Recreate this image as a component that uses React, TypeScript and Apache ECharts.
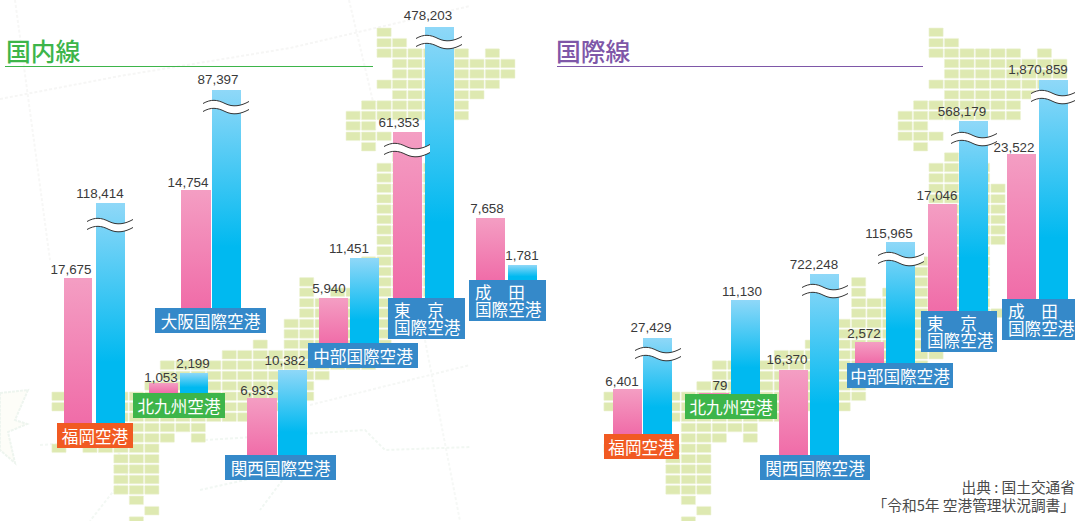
import React, { useEffect, useRef } from "react";
import * as echarts from "echarts";

// ---- values ----
const domesticAirports = ["福岡空港", "大阪国際空港", "北九州空港", "関西国際空港", "中部国際空港", "東　京\n国際空港", "成　田\n国際空港"];
const domesticPink = [17675, 14754, 1053, 6933, 5940, 61353, 7658];
const domesticBlue = [118414, 87397, 2199, 10382, 11451, 478203, 1781];

const internationalAirports = ["福岡空港", "北九州空港", "関西国際空港", "中部国際空港", "東　京\n国際空港", "成　田\n国際空港"];
const internationalPink = [6401, 79, 16370, 2572, 17046, 23522];
const internationalBlue = [27429, 11130, 722248, 115965, 568179, 1870859];

const WIDTH = 1075;
const HEIGHT = 521;

// ---- layout (in axis units, the axes run over the picture area) ----
// bar columns: [pinkX0, pinkX1, blueX0, blueX1, pinkTop, blueTop, base]
const domesticBars = [
  [64, 92, 96, 125, 278, 203, 424],
  [181, 211, 212, 241, 190, 90, 308],
  [149, 178, 180, 208, 383, 373, 393],
  [247, 277, 278, 307, 398, 370, 456],
  [319, 348, 350, 379, 298, 258, 344],
  [393, 422, 425, 454, 132, 27, 298],
  [476, 505, 508, 537, 218, 265, 281],
];
const internationalBars = [
  [613, 642, 643, 672, 389, 338, 434],
  [699, 729, 731, 760, 393, 300, 394],
  [779, 808, 810, 839, 370, 274, 455],
  [855, 884, 886, 915, 342, 242, 363],
  [928, 957, 959, 988, 204, 121, 311],
  [1007, 1036, 1039, 1068, 154, 80, 299],
];
// name plates: [x0, x1, y0, y1, fill]
const domesticPlates: any[] = [
  [57, 133, 423, 448, "#F15A22"],
  [155, 266, 308, 333, "#3589C9"],
  [133, 225, 393, 418, "#3DB54A"],
  [225, 336, 455, 480, "#3589C9"],
  [308, 418, 343, 368, "#3589C9"],
  [388, 465, 298, 339, "#3589C9"],
  [469, 546, 280, 321, "#3589C9"],
];
const internationalPlates: any[] = [
  [604, 679, 434, 459, "#F15A22"],
  [685, 777, 394, 419, "#3DB54A"],
  [760, 870, 455, 480, "#3589C9"],
  [847, 953, 363, 388, "#3589C9"],
  [921, 997, 311, 352, "#3589C9"],
  [1002, 1075, 299, 340, "#3589C9"],
];
// value label anchors: [pinkCx, pinkCy, blueCx, blueCy]
const domesticAnchors = [
  [71, 269, 100, 193],
  [188, 182, 218, 79],
  [161, 377, 193, 363],
  [257, 390, 285, 360],
  [329, 288, 349, 248],
  [399, 122, 428, 15],
  [487, 208, 522, 255],
];
const internationalAnchors = [
  [622, 381, 651, 327],
  [720, 385, 742, 291],
  [787, 359, 814, 264],
  [864, 333, 889, 233],
  [937, 195, 962, 111],
  [1014, 147, 1038, 69],
];
// top-left corners of the axis-break marks
const breakMarks = [
  [87, 218], [203, 100], [384, 143], [416, 35],
  [635, 347], [802, 284], [878, 252], [951, 132], [1031, 90],
];
// Japan tile map: [row, columns]
const r = (a: number, b: number) => { const o: number[] = []; for (let i = a; i <= b; i++) o.push(i); return o; };
const tileRows: [number, number[]][] = [
  [0, [2]], [1, [2, 3]], [2, [2, 3, 4, 5, 6, 7, 9]], [3, r(3, 10)], [4, r(3, 10)], [5, r(2, 9)], [6, r(3, 8)],
  [7, r(1, 7)], [8, r(0, 7)], [9, [0, 1]], [10, [0, 1, 2]], [11, [1]], [12, [3]], [13, r(2, 5)], [14, r(2, 5)],
  [15, r(2, 6)], [16, r(2, 6)], [17, r(2, 6)], [18, r(2, 6)], [19, r(2, 6)], [20, r(2, 6)], [21, r(2, 5)],
  [22, r(1, 5)], [23, r(1, 5)], [24, [-3, ...r(1, 5)]], [25, [-3, ...r(-1, 5)]], [26, r(-3, 5)], [27, r(-3, 6)],
  [28, r(-4, 5)], [29, r(-4, 5)], [30, [-6, ...r(-4, 2)]], [31, r(-8, 2)], [32, r(-12, 1)], [33, r(-12, -2)],
  [34, r(-13, -3)], [35, [-19, ...r(-15, -3)]], [36, [-19, ...r(-15, -4)]], [37, r(-15, -7)], [38, r(-14, -10)],
  [39, [-14, -13, -12, -10]], [40, [-19, -17, -16, -15, -14, -13]], [41, r(-15, -13)], [42, r(-15, -13)],
  [43, r(-15, -13)], [44, r(-15, -13)], [45, [-14]], [46, [-13]], [47, [-14]],
];
const mapOffsets = [0, 552];

const NUM_FONT = '"Liberation Sans", Arial, sans-serif';
const JP_FONT = '"Noto Sans CJK JP", sans-serif';
const grad = (stops: [number, string][]) => new echarts.graphic.LinearGradient(0, 0, 0, 1, stops.map(([offset, color]) => ({ offset, color })));
const pinkFill = () => grad([[0, "#F49EC3"], [1, "#F06CA8"]]);
const blueFill = () => grad([[0, "#8FD8F8"], [0.72, "#00B9F0"], [1, "#00B9F0"]]);

echarts.graphic.registerShape("breakBand", echarts.graphic.extendPath("M0,3.5 C8,-1 14,-0.5 22,3.5 C30,7.5 38,6 46,1.5 L46,9.5 C38,14 30,15.5 22,11.5 C14,7.5 8,7 0,11.5 Z", {}));
echarts.graphic.registerShape("breakLine", echarts.graphic.extendPath("M0,3.5 C8,-1 14,-0.5 22,3.5 C30,7.5 38,6 46,1.5 M0,11.5 C8,7 14,7.5 22,11.5 C30,15.5 38,14 46,9.5", {}));

const tileData: number[][] = [];
mapOffsets.forEach((dx) => tileRows.forEach(([row, cols]) => cols.forEach((c) => tileData.push([346 + 15.48 * c + dx, 28 + 10.4 * row]))));

function barSeries(name: string, layout: number[][], anchors: number[][], pink: number[], blue: number[]) {
  const data = layout.map((b, i) => ({ name: String(i), value: b }));
  return {
    type: "custom", name, coordinateSystem: "cartesian2d", clip: false, z: 3, silent: true,
    encode: { x: 0, y: 4 }, data,
    renderItem: (params: any, api: any) => {
      const v = (k: number) => api.value(k) as number;
      const rect = (x0: number, x1: number, top: number, base: number, fill: any) => {
        const a = api.coord([x0, top]); const b = api.coord([x1, base]);
        return { type: "rect", shape: { x: a[0], y: a[1], width: b[0] - a[0], height: b[1] - a[1] }, style: { fill } };
      };
      const an = anchors[params.dataIndex];
      const label = (val: number, cx: number, cy: number) => {
        const p = api.coord([cx, cy]);
        return { type: "text", z2: 5, style: { text: val.toLocaleString("en-US"), x: p[0], y: p[1], align: "center", verticalAlign: "middle", font: `13.4px ${NUM_FONT}`, fill: "#3a3a3a" } };
      };
      return {
        type: "group",
        children: [
          rect(v(0), v(1), v(4), v(6), pinkFill()),
          rect(v(2), v(3), v(5), v(6), blueFill()),
          label(pink[params.dataIndex], an[0], an[1]),
          label(blue[params.dataIndex], an[2], an[3]),
        ],
      };
    },
  };
}

function plateSeries(name: string, plates: any[], names: string[]) {
  return {
    type: "custom", name: name + "名", coordinateSystem: "cartesian2d", clip: false, z: 6, silent: true,
    encode: { x: 0, y: 2 }, data: plates.map((p) => p.slice(0, 4)),
    renderItem: (params: any, api: any) => {
      const a = api.coord([api.value(0), api.value(2)]);
      const b = api.coord([api.value(1), api.value(3)]);
      const text = names[params.dataIndex];
      const two = text.includes("\n");
      return {
        type: "group",
        children: [
          { type: "rect", shape: { x: a[0], y: a[1], width: b[0] - a[0], height: b[1] - a[1] }, style: { fill: plates[params.dataIndex][4] } },
          { type: "text", z2: 5, style: {
            text, x: two ? a[0] + 6 : (a[0] + b[0]) / 2, y: (a[1] + b[1]) / 2,
            align: two ? "left" : "center", verticalAlign: "middle", font: `16.6px ${JP_FONT}`, lineHeight: 17.5, fill: "#ffffff" } },
        ],
      };
    },
  };
}

const faintLines: { pts: number[][]; color: string }[] = [
  { pts: [[0, 99], [120, 76], [290, 48], [470, 6]], color: "#f6f6f5" },
  { pts: [[15, 0], [50, 260]], color: "#f7f7f6" },
  { pts: [[349, 0], [375, 110]], color: "#f7f7f6" },
  { pts: [[310, 405], [470, 365]], color: "#f5f7f5" },
  { pts: [[425, 340], [460, 521]], color: "#f6f8f6" },
  { pts: [[205, 440], [365, 430], [385, 450], [470, 447]], color: "#f1f7f2" },
  { pts: [[40, 445], [110, 440], [130, 470], [90, 521]], color: "#f3f8f4" },
  { pts: [[200, 490], [290, 470], [260, 510]], color: "#f1f7f3" },
];

export default function App() {
  const ref = useRef<HTMLDivElement>(null);
  useEffect(() => {
    const chart = echarts.init(ref.current!, null, { renderer: "svg" });
    const line = (x0: number, x1: number, color: string) => ({ type: "line", shape: { x1: x0, y1: 66.5, x2: x1, y2: 66.5 }, style: { stroke: color, lineWidth: 1.2 } });
    const title = (text: string, x: number, fill: string) => ({ type: "text", x, y: 50, style: { text, fill, font: `500 24.8px ${JP_FONT}`, align: "left", verticalAlign: "middle" } });
    const foot = (text: string, y: number) => ({ type: "text", x: 1075, y, style: { text, fill: "#4a4a4a", font: `14.7px ${JP_FONT}`, align: "right", verticalAlign: "middle" } });
    chart.setOption({
      animation: false,
      backgroundColor: "#ffffff",
      grid: { left: 0, top: 0, right: 0, bottom: 0 },
      xAxis: { type: "value", min: 0, max: WIDTH, show: false },
      yAxis: { type: "value", min: 0, max: HEIGHT, inverse: true, show: false },
      graphic: [
        { type: "polygon", z: 0, shape: { points: [[0, 393], [28, 390], [15, 420], [27, 424], [8, 432], [15, 463], [0, 450]] }, style: { fill: "#fdfdf8", stroke: "#eef5ef", lineWidth: 2, lineDash: [3, 1] } },
        ...faintLines.map((l) => ({ type: "polyline", z: 0, shape: { points: l.pts }, style: { stroke: l.color, lineWidth: 2, lineDash: [3, 2], fill: "none" } })),
        title("国内線", 6, "#3DB54A"),
        line(5, 373, "#3DB54A"),
        title("国際線", 556, "#7E57A8"),
        line(557, 923, "#7E57A8"),
        foot("出典 : 国土交通省", 486),
        foot("「令和5年 空港管理状況調書」", 504),
      ],
      series: [
        {
          type: "custom", name: "地図", coordinateSystem: "cartesian2d", clip: false, z: 1, silent: true,
          encode: { x: 0, y: 1 }, data: tileData,
          renderItem: (_: any, api: any) => {
            const p = api.coord([api.value(0), api.value(1)]);
            return { type: "rect", shape: { x: p[0], y: p[1], width: 14.2, height: 8.6, r: 0.5 }, style: { fill: "#DEE9B1", stroke: "#EEF3D8", lineWidth: 0.6 } };
          },
        },
        barSeries("国内線", domesticBars, domesticAnchors, domesticPink, domesticBlue),
        barSeries("国際線", internationalBars, internationalAnchors, internationalPink, internationalBlue),
        {
          type: "custom", name: "省略", coordinateSystem: "cartesian2d", clip: false, z: 5, silent: true,
          encode: { x: 0, y: 1 }, data: breakMarks,
          renderItem: (_: any, api: any) => {
            const p = api.coord([api.value(0), api.value(1)]);
            return {
              type: "group", x: p[0], y: p[1],
              children: [
                { type: "breakBand", style: { fill: "#ffffff" } },
                { type: "breakLine", style: { fill: "none", stroke: "#333333", lineWidth: 1 } },
              ],
            };
          },
        },
        plateSeries("国内線", domesticPlates, domesticAirports),
        plateSeries("国際線", internationalPlates, internationalAirports),
      ],
    });
    return () => chart.dispose();
  }, []);
  return <div ref={ref} style={{ position: "fixed", left: 0, top: 0, width: WIDTH, height: HEIGHT }} />;
}
